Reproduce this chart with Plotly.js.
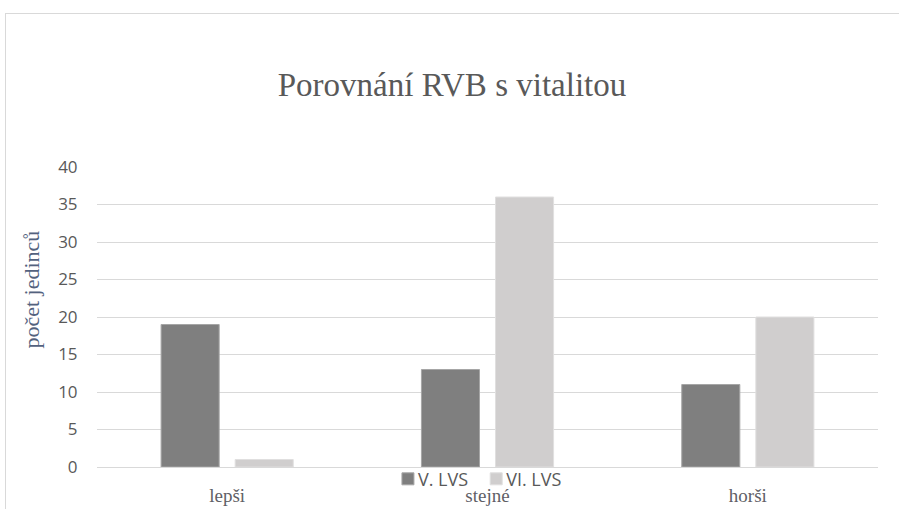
<!DOCTYPE html>
<html>
<head>
<meta charset="utf-8">
<script src="https://cdn.plot.ly/plotly-3.0.1.min.js"></script>
<style>
  html, body { margin: 0; padding: 0; background: #fff; }
  #wrap { position: relative; width: 899px; height: 509px; overflow: hidden; }
  #frame { position: absolute; left: 5px; top: 13px; width: 920px; height: 520px; border: 1px solid #d9d9d9; box-sizing: border-box; }
  #chart { position: absolute; left: 0; top: 0; width: 899px; height: 509px; }
</style>
</head>
<body>
<div id="wrap">
  <div id="frame"></div>
  <div id="chart"></div>
</div>
<script>
const categories = ["lepši", "stejné", "horši"];
const seriesNames = ["V. LVS", "VI. LVS"];
const valuesV = [19, 13, 11];
const valuesVI = [1, 36, 20];
const yTicks = [0, 5, 10, 15, 20, 25, 30, 35, 40];
const chartTitle = "Porovnání RVB s vitalitou";
const yTitle = "počet jedinců";

const SERIF = "'Liberation Serif', 'Times New Roman', serif";
const SANS = "'Open Sans', 'Liberation Sans', sans-serif";

const traces = [
  {
    type: "bar", name: seriesNames[0], x: categories, y: valuesV,
    marker: { color: "#7f7f7f", line: { color: "#a6a6a6", width: 1 } },
    hoverinfo: "none"
  },
  {
    type: "bar", name: seriesNames[1], x: categories, y: valuesVI,
    marker: { color: "#d0cece", line: { color: "#e0dfdf", width: 1 } },
    hoverinfo: "none"
  }
];

const layout = {
  width: 899, height: 509,
  paper_bgcolor: "rgba(0,0,0,0)",
  plot_bgcolor: "rgba(0,0,0,0)",
  margin: { l: 97, r: 21, t: 167, b: 41 },
  barmode: "group",
  bargap: 0.431,
  bargroupgap: 0.216,
  title: {
    text: chartTitle,
    font: { family: SERIF, size: 33, color: "#595959" },
    x: 452 / 899, xanchor: "center", xref: "container",
    y: 1 - 84 / 509, yanchor: "middle", yref: "container"
  },
  xaxis: {
    type: "category",
    showgrid: false,
    showline: false,
    zeroline: false,
    ticks: "outside", ticklen: 11, tickcolor: "rgba(0,0,0,0)",
    tickfont: { family: SERIF, size: 19, color: "#5f5f66" }
  },
  yaxis: {
    range: [0, 40],
    tickvals: yTicks,
    ticktext: yTicks.map(String),
    showgrid: true, gridcolor: "#d9d9d9", gridwidth: 1,
    zeroline: true, zerolinecolor: "#d9d9d9", zerolinewidth: 1,
    showline: false,
    ticks: "outside", ticklen: 15, tickcolor: "rgba(0,0,0,0)",
    tickfont: { family: SANS, size: 17, color: "#595959" }
  },
  annotations: [
    {
      text: yTitle, showarrow: false, textangle: -90,
      xref: "paper", yref: "paper",
      x: (32 - 97) / 781, y: (468 - 290) / 301,
      xanchor: "center", yanchor: "middle",
      font: { family: SERIF, size: 22, color: "#53627e" }
    }
  ],
  legend: {
    orientation: "h",
    x: 0.498, xanchor: "center",
    y: -0.037, yanchor: "middle",
    font: { family: SANS, size: 18, color: "#595959" },
    bgcolor: "rgba(0,0,0,0)",
    itemwidth: 30,
    tracegroupgap: 0
  },
  showlegend: true
};

Plotly.newPlot("chart", traces, layout, { displayModeBar: false, staticPlot: true }).then(function (gd) {
  // tighten the gap between legend swatch and text, as in the reference
  const items = gd.querySelectorAll(".legend .traces");
  items.forEach(function (g, i) {
    const t = g.querySelector(".legendtext");
    if (t) t.setAttribute("x", 30);
    if (i > 0) {
      const tr = g.getAttribute("transform") || "";
      const m = tr.match(/translate\(\s*([-\d.]+)[ ,]+([-\d.]+)\s*\)/);
      if (m) g.setAttribute("transform", "translate(" + (parseFloat(m[1]) - 7 * i) + "," + m[2] + ")");
    }
  });
});
</script>
</body>
</html>
